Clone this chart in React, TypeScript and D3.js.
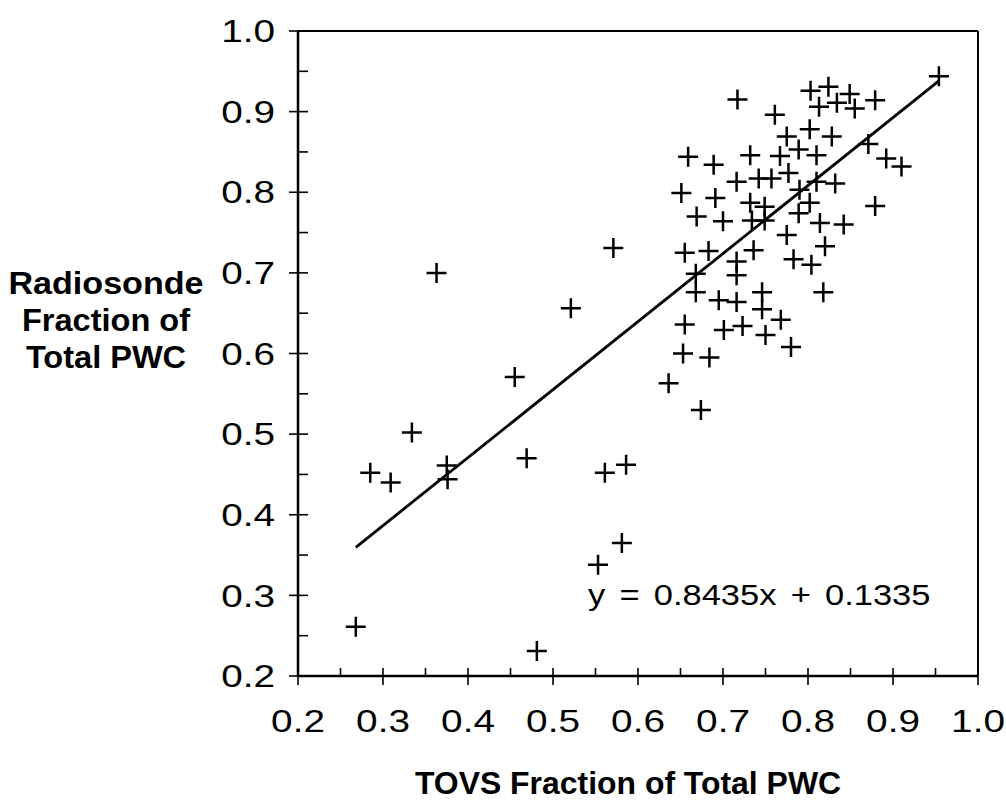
import React from 'react';
import * as d3 from 'd3';

// tick labels on both axes
const xTickLabels = ['0.2', '0.3', '0.4', '0.5', '0.6', '0.7', '0.8', '0.9', '1.0'];
const yTickLabels = ['0.2', '0.3', '0.4', '0.5', '0.6', '0.7', '0.8', '0.9', '1.0'];

// TOVS fraction (x) and radiosonde fraction (y)
const tovsFraction = [
  0.268, 0.285, 0.309, 0.334, 0.363, 0.375, 0.376, 0.455, 0.469, 0.481, 0.521, 0.553, 0.561, 0.571, 0.581, 0.586,
  0.668, 0.716, 0.668, 0.695, 0.716, 0.746, 0.746, 0.818, 0.768, 0.655, 0.701, 0.723, 0.750, 0.780, 0.653, 0.684,
  0.636, 0.674, 0.804,
  0.717, 0.803, 0.824, 0.813, 0.834, 0.849, 0.855, 0.879, 0.761, 0.802, 0.775, 0.828, 0.659, 0.689, 0.732, 0.767,
  0.789, 0.810, 0.871, 0.892, 0.910, 0.716, 0.742, 0.757, 0.777, 0.810, 0.832, 0.651, 0.691, 0.732, 0.749, 0.790,
  0.802, 0.879, 0.669, 0.700, 0.734, 0.749, 0.789, 0.814, 0.842, 0.775, 0.820, 0.655, 0.683, 0.736, 0.716, 0.783,
  0.954,
];
const radiosondeFraction = [
  0.261, 0.452, 0.440, 0.502, 0.700, 0.461, 0.444, 0.571, 0.470, 0.231, 0.656, 0.338, 0.452, 0.731, 0.365, 0.462,
  0.699, 0.697, 0.676, 0.666, 0.664, 0.676, 0.655, 0.676, 0.642, 0.636, 0.629, 0.634, 0.623, 0.608, 0.600, 0.595,
  0.563, 0.530, 0.710,
  0.915, 0.926, 0.931, 0.906, 0.911, 0.922, 0.904, 0.914, 0.896, 0.878, 0.869, 0.869, 0.844, 0.834, 0.846, 0.845,
  0.853, 0.846, 0.860, 0.842, 0.832, 0.813, 0.817, 0.817, 0.824, 0.813, 0.811, 0.799, 0.793, 0.787, 0.782, 0.803,
  0.787, 0.783, 0.770, 0.764, 0.765, 0.765, 0.774, 0.762, 0.760, 0.747, 0.733, 0.725, 0.727, 0.728, 0.714, 0.717,
  0.944,
];

const slope = 0.8435;
const intercept = 0.1335;
const fitExtent = [0.268, 0.954];

const font = '"Liberation Sans", Arial, Helvetica, sans-serif';

export default function App() {
  const x = d3.scaleLinear().domain([0.2, 1.0]).range([298, 978]);
  const y = d3.scaleLinear().domain([0.2, 1.0]).range([676, 31]);

  const majors = xTickLabels.map(Number);
  const minors = majors.slice(0, -1).map((v) => v + 0.05);

  const fitLine = d3.line<number>()
    .x((d) => x(d))
    .y((d) => y(slope * d + intercept));

  const plus = 'M-10,0H10M0,-10V10';

  return (
    <svg width={1006} height={803} style={{ position: 'absolute', left: 0, top: 0, background: '#fff' }}>
      {/* frame */}
      <line x1={x(0.2)} x2={x(1.0)} y1={y(1.0)} y2={y(1.0)} stroke="#000" strokeWidth={2} />
      <line x1={x(1.0)} x2={x(1.0)} y1={y(1.0)} y2={y(0.2)} stroke="#000" strokeWidth={2} />
      <line x1={x(0.2)} x2={x(1.0)} y1={y(0.2)} y2={y(0.2)} stroke="#000" strokeWidth={2.5} />
      <line x1={x(0.2)} x2={x(0.2)} y1={y(1.0)} y2={y(0.2)} stroke="#000" strokeWidth={2.5} />

      {/* y ticks */}
      {majors.map((v) => (
        <line key={'ym' + v} x1={x(0.2) - 9} x2={x(0.2) + 10} y1={y(v)} y2={y(v)} stroke="#000" strokeWidth={1.6} />
      ))}
      {minors.map((v) => (
        <line key={'yn' + v} x1={x(0.2)} x2={x(0.2) + 10} y1={y(v)} y2={y(v)} stroke="#000" strokeWidth={1.6} />
      ))}
      {/* x ticks */}
      {majors.map((v) => (
        <line key={'xm' + v} x1={x(v)} x2={x(v)} y1={y(0.2) - 8} y2={y(0.2) + 9} stroke="#000" strokeWidth={1.6} />
      ))}
      {minors.map((v) => (
        <line key={'xn' + v} x1={x(v)} x2={x(v)} y1={y(0.2) - 8} y2={y(0.2)} stroke="#000" strokeWidth={1.6} />
      ))}

      {yTickLabels.map((t) => (
        <text key={'yl' + t} transform={`translate(275,${y(+t)}) scale(1.25,1)`} textAnchor="end" dy="0.36em"
          fontFamily={font} fontSize={31}>{t}</text>
      ))}
      {xTickLabels.map((t) => (
        <text key={'xl' + t} transform={`translate(${x(+t)},732) scale(1.25,1)`} textAnchor="middle"
          fontFamily={font} fontSize={31}>{t}</text>
      ))}

      {/* regression line */}
      <path d={fitLine(fitExtent) || ''} fill="none" stroke="#000" strokeWidth={2.8} />

      {/* points */}
      {tovsFraction.map((tv, i) => (
        <path key={'p' + i} d={plus} transform={`translate(${x(tv)},${y(radiosondeFraction[i])})`}
          stroke="#000" strokeWidth={2.5} fill="none" />
      ))}

      <text transform="translate(588,605) scale(1.15,1)" fontFamily={font} fontSize={30} wordSpacing={4}>
        y = 0.8435x + 0.1335
      </text>

      {/* axis titles */}
      <g fontFamily={font} fontSize={31} fontWeight="bold" textAnchor="middle">
        <text transform="translate(106,294) scale(1.1,1)">Radiosonde</text>
        <text transform="translate(106,331) scale(1.05,1)">Fraction of</text>
        <text transform="translate(106,368) scale(1.05,1)">Total PWC</text>
        <text transform="translate(628,794) scale(1.03,1)">TOVS Fraction of Total PWC</text>
      </g>
    </svg>
  );
}
